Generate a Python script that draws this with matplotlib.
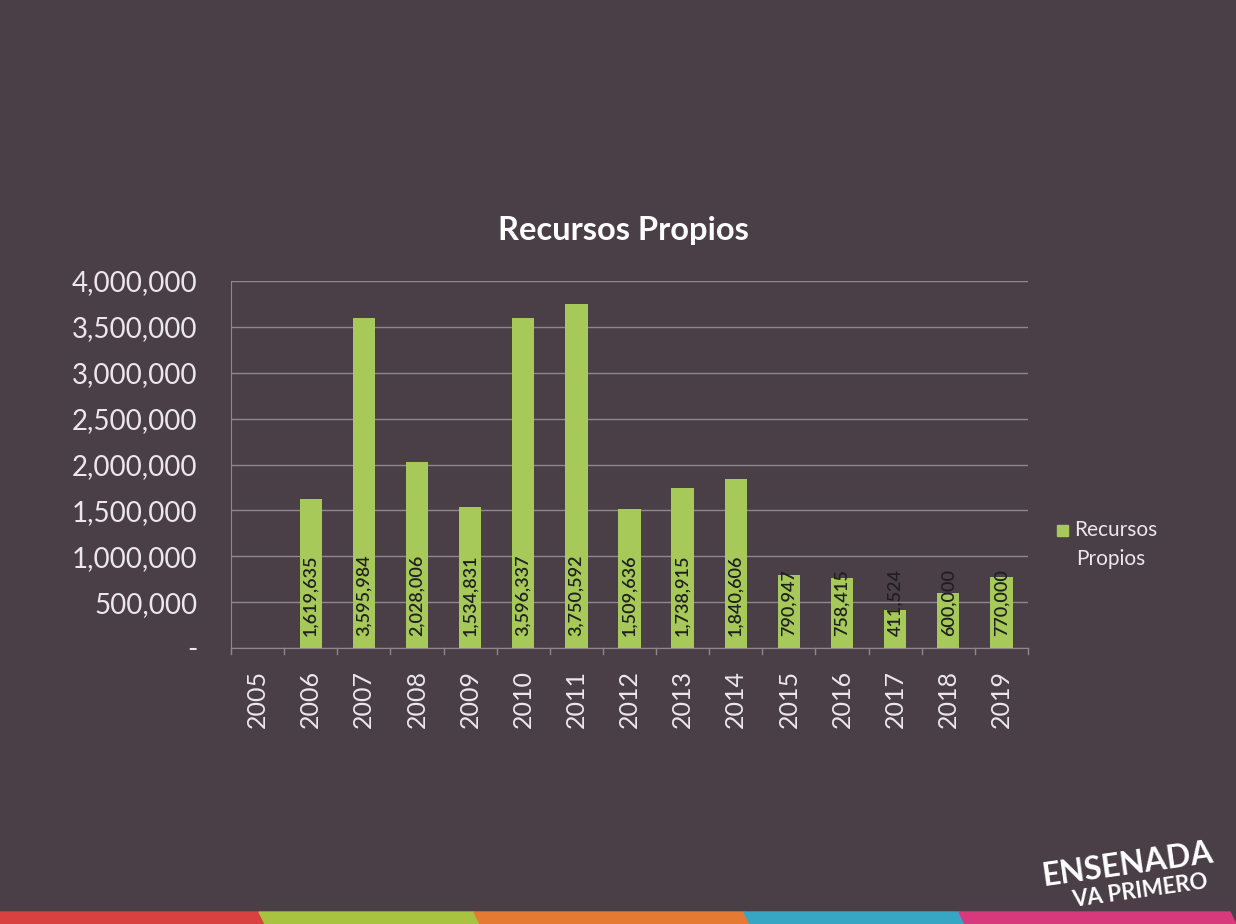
import matplotlib.pyplot as plt
from matplotlib.patches import Polygon
from matplotlib.ticker import FuncFormatter
import numpy as np

plt.rcParams['font.family'] = ['Lato', 'DejaVu Sans']

years = ['2005', '2006', '2007', '2008', '2009', '2010', '2011', '2012',
         '2013', '2014', '2015', '2016', '2017', '2018', '2019']
values = [0, 1619635, 3595984, 2028006, 1534831, 3596337, 3750592, 1509636,
          1738915, 1840606, 790947, 758415, 411524, 600000, 770000]
labels = ['', '1,619,635', '3,595,984', '2,028,006', '1,534,831', '3,596,337',
          '3,750,592', '1,509,636', '1,738,915', '1,840,606', '790,947',
          '758,415', '411,524', '600,000', '770,000']

bg = '#4a3f47'
green = '#a6c95a'
txt = '#ebe7ea'
grid = '#8f878d'

fig = plt.figure(figsize=(12.36, 9.24), dpi=100, facecolor=bg)
ax = fig.add_axes([231 / 1236, 1 - 648 / 924, (1028 - 231) / 1236, (648 - 281) / 924])
ax.set_facecolor(bg)

x = np.arange(len(years))
ax.bar(x, values, width=0.42, color=green, zorder=3)
ax.set_xlim(-0.5, len(years) - 0.5)
ax.set_ylim(0, 4000000)
ax.set_yticks(np.arange(0, 4000001, 500000))
ax.yaxis.set_major_formatter(FuncFormatter(lambda v, p: '-' if v == 0 else f'{int(v):,}'))
ax.grid(axis='y', color=grid, linewidth=1, zorder=0)

for s in ['top', 'right']:
    ax.spines[s].set_visible(False)
ax.spines['left'].set_color(grid)
ax.spines['bottom'].set_color(grid)

ax.set_xticks(x)
ax.set_xticklabels(years, rotation=90, fontsize=18, color=txt)
ax.tick_params(axis='y', labelsize=20, colors=txt, length=0, pad=24)
ax.tick_params(axis='x', colors=grid, labelcolor=txt, length=0, pad=16)
# category separator ticks
for b in np.arange(-0.5, len(years), 1):
    ax.plot([b, b], [0, -60000], color=grid, lw=1, clip_on=False)

for xi, v, lab in zip(x, values, labels):
    if lab:
        ax.text(xi, 130000, lab, rotation=90, ha='center', va='bottom',
                fontsize=13, fontweight='semibold', color='#1f1f1f', zorder=4)

fig.text(623 / 1236, 1 - 230 / 924, 'Recursos Propios', fontsize=23.5,
         fontweight='bold', color='white', ha='center', va='center')

# legend
fig.patches.append(plt.Rectangle((1057 / 1236, 1 - 536 / 924), 11 / 1236, 11 / 924,
                                 transform=fig.transFigure, color=green))
fig.text(1074 / 1236, 1 - 530 / 924, 'Recursos', fontsize=15, color=txt, va='center')
fig.text(1076 / 1236, 1 - 559 / 924, 'Propios', fontsize=15, color=txt, va='center')

# bottom stripe
stripe = [('#d8413f', 0, 265), ('#a8c33f', 265, 480), ('#e57b32', 480, 750),
          ('#37a5c4', 750, 965), ('#d8387c', 965, 1236)]
for col, a, b in stripe:
    pts = [(a / 1236, 0), (b / 1236, 0), ((b - 6) / 1236, 12 / 924), ((a - 6) / 1236, 12 / 924)]
    fig.patches.append(Polygon(pts, closed=True, transform=fig.transFigure, color=col))

# logo
fig.text(1128 / 1236, 1 - 865 / 924, 'ENSENADA', fontsize=23, fontweight='bold',
         color='white', ha='center', va='center', rotation=8)
fig.text(1140 / 1236, 1 - 891 / 924, 'VA PRIMERO', fontsize=16, fontweight='bold',
         color='white', ha='center', va='center', rotation=8)

fig.savefig('out.png', dpi=100, facecolor=bg)
